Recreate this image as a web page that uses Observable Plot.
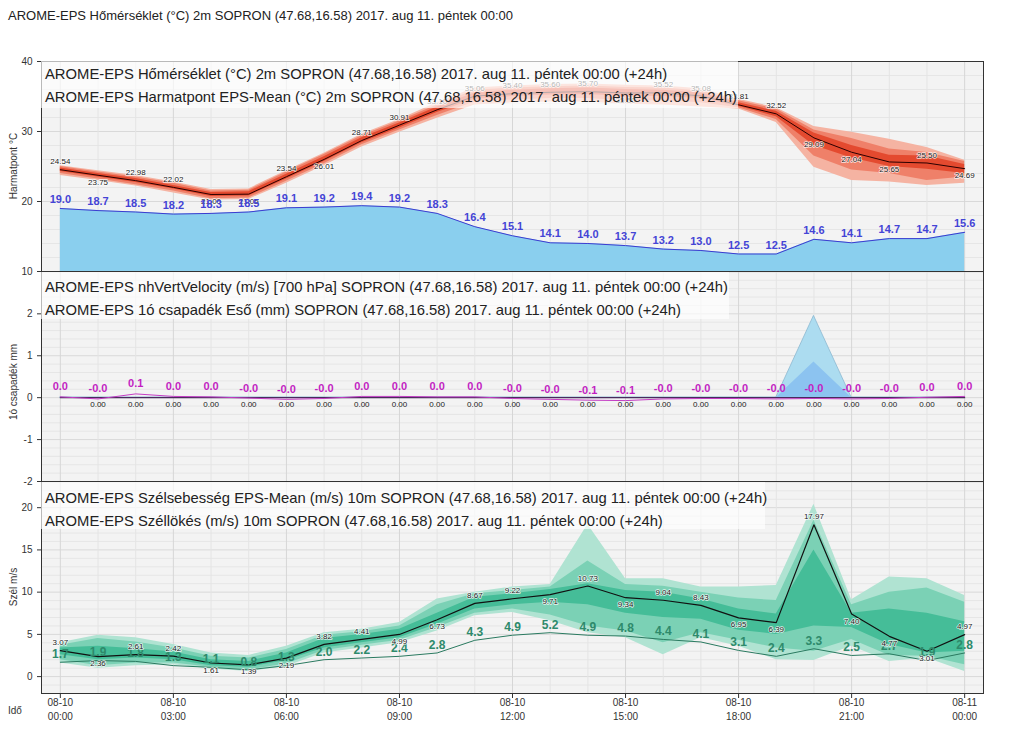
<!DOCTYPE html>
<html><head><meta charset="utf-8">
<script src="https://cdn.jsdelivr.net/npm/d3@7"></script>
<script src="https://cdn.jsdelivr.net/npm/@observablehq/plot@0.6"></script>
<style>
body{margin:0;background:#fff;font-family:"Liberation Sans",Arial,sans-serif;}
#wrap{position:relative;width:1024px;height:753px;overflow:hidden;background:#fff;}
#title{position:absolute;left:8px;top:8px;font-size:13px;color:#222;white-space:nowrap;}
.pan{position:absolute;left:0;}
.leg{position:absolute;left:41px;background:rgba(255,255,255,0.66);font-size:14.8px;color:#222;padding-left:4px;line-height:23px;white-space:nowrap;box-sizing:border-box;}
.ylab{position:absolute;width:200px;text-align:center;font-size:10px;color:#333;transform:rotate(-90deg);white-space:nowrap;line-height:12px;}
#ido{position:absolute;left:8px;top:705px;font-size:10px;color:#333;}
</style></head>
<body><div id="wrap">
<div id="title">AROME-EPS Hőmérséklet (°C) 2m SOPRON (47.68,16.58) 2017. aug 11. péntek 00:00</div>
</div>
<script>
// ---------- data ----------
const hours = [0,1,2,3,4,5,6,7,8,9,10,11,12,13,14,15,16,17,18,19,20,21,22,23,24];
const tickHours = [0,3,6,9,12,15,18,21,24];
const tickDates = ["08-10","08-10","08-10","08-10","08-10","08-10","08-10","08-10","08-11"];
const tickTimes = ["00:00","03:00","06:00","09:00","12:00","15:00","18:00","21:00","00:00"];

// temperature (°C) ensemble
const tempMain = [24.54,23.75,22.98,22.02,21.0,21.05,23.54,26.01,28.71,30.91,33.1,35.06,35.4,35.6,35.7,35.5,35.52,35.08,33.81,32.52,29.09,27.04,25.65,25.50,24.69];
const tempMin  = [23.7,23.0,22.2,21.2,20.2,20.3,22.6,25.1,27.8,29.9,31.9,33.8,34.1,34.2,34.2,33.9,33.8,33.5,33.2,31.3,24.9,23.0,22.8,22.3,22.6];
const tempP10  = [24.0,23.2,22.4,21.5,20.4,20.5,22.9,25.4,28.1,30.2,32.3,34.2,34.5,34.7,34.7,34.4,34.4,34.1,33.4,31.7,26.5,24.5,24.0,23.0,23.5];
const tempP25  = [24.3,23.5,22.7,21.8,20.7,20.8,23.2,25.7,28.4,30.5,32.7,34.6,35.0,35.2,35.3,35.0,35.0,34.7,33.6,32.1,28.0,26.2,25.0,24.6,24.0];
const tempP75  = [24.8,24.0,23.3,22.3,21.3,21.4,23.9,26.4,29.1,31.2,33.5,35.5,35.9,36.1,36.2,36.0,35.9,35.5,34.1,32.9,29.8,28.0,26.6,26.5,25.3];
const tempP90  = [25.0,24.2,23.5,22.6,21.5,21.6,24.2,26.7,29.4,31.5,33.8,35.9,36.2,36.4,36.5,36.3,36.2,35.8,34.4,33.2,30.2,29.0,27.5,27.0,25.7];
const tempMax  = [25.1,24.4,23.7,22.8,21.7,21.8,24.4,26.9,29.6,31.7,34.1,36.2,36.5,36.7,36.8,36.6,36.5,36.1,34.6,33.4,30.7,29.9,28.9,27.7,25.9];
// dew point EPS mean (°C)
const dewMean = [19.0,18.7,18.5,18.2,18.3,18.5,19.1,19.2,19.4,19.2,18.3,16.4,15.1,14.1,14.0,13.7,13.2,13.0,12.5,12.5,14.6,14.1,14.7,14.7,15.6];

// vertical velocity (m/s) and 1h precipitation (mm)
const vertVel   = [0.02,-0.03,0.09,0.03,0.02,-0.01,-0.04,-0.02,0.03,0.03,0.02,0.02,-0.02,-0.04,-0.06,-0.07,-0.03,-0.02,-0.02,-0.03,-0.02,-0.03,-0.02,0.01,0.03];
const precipMed = [0,0,0,0,0,0,0,0,0,0,0,0,0,0,0,0,0,0,0,0,0,0,0,0,0];
const precipP75 = [0,0,0,0,0,0,0,0,0,0,0,0,0,0,0,0,0,0,0,0,0.85,0,0,0,0];
const precipMax = [0,0,0,0,0,0,0,0,0,0,0,0,0,0,0,0,0,0,0,0,1.95,0,0,0,0];

// wind gust (m/s) ensemble and wind speed EPS mean
const gustMain = [3.07,2.36,2.61,2.42,1.61,1.39,2.19,3.82,4.41,4.99,6.73,8.67,9.22,9.71,10.73,9.34,9.04,8.43,6.95,6.39,17.97,7.40,4.77,3.01,4.97];
const gustMin  = [1.6,1.0,1.3,1.4,0.9,0.6,1.2,2.8,3.4,4.0,5.4,7.2,7.6,6.6,5.2,4.6,2.6,4.6,3.6,2.0,1.9,3.6,1.8,2.2,0.6];
const gustP10  = [2.0,1.3,1.6,1.6,1.1,0.8,1.5,3.1,3.7,4.3,5.8,7.5,8.0,7.3,6.0,5.4,4.0,5.2,4.3,3.4,3.0,4.4,2.5,2.4,1.4];
const gustP25  = [2.6,2.0,2.2,2.0,1.3,1.1,1.9,3.4,4.0,4.6,6.2,8.0,8.5,8.8,8.5,7.5,7.0,6.8,5.5,5.0,6.0,5.8,3.8,2.8,3.0];
const gustP75  = [3.4,3.6,3.3,2.9,2.0,1.8,2.8,4.5,5.0,5.6,7.5,9.4,9.8,10.3,11.0,10.2,10.0,9.2,8.0,7.4,15.0,7.5,8.0,7.5,6.5];
const gustP90  = [3.7,4.5,4.1,3.4,2.4,2.2,3.2,4.9,5.3,6.0,8.5,9.8,10.2,10.6,13.7,10.9,10.7,10.0,9.3,9.0,18.5,8.5,10.0,10.5,8.8];
const gustMax  = [4.0,4.9,4.6,3.8,2.8,2.5,3.6,5.2,5.6,6.4,9.2,10.0,10.6,10.9,18.0,11.6,11.6,10.6,10.6,10.8,20.4,9.1,11.8,11.6,9.6];
const windMean = [1.7,1.9,1.8,1.3,1.1,0.8,1.3,2.0,2.2,2.4,2.8,4.3,4.9,5.2,4.9,4.8,4.4,4.1,3.1,2.4,3.3,2.5,2.7,1.9,2.8];

const legends = [
  ["AROME-EPS Hőmérséklet (°C) 2m SOPRON (47.68,16.58) 2017. aug 11. péntek 00:00 (+24h)",
   "AROME-EPS Harmatpont EPS-Mean (°C) 2m SOPRON (47.68,16.58) 2017. aug 11. péntek 00:00 (+24h)"],
  ["AROME-EPS nhVertVelocity (m/s) [700 hPa] SOPRON (47.68,16.58) 2017. aug 11. péntek 00:00 (+24h)",
   "AROME-EPS 1ó csapadék Eső (mm) SOPRON (47.68,16.58) 2017. aug 11. péntek 00:00 (+24h)"],
  ["AROME-EPS Szélsebesség EPS-Mean (m/s) 10m SOPRON (47.68,16.58) 2017. aug 11. péntek 00:00 (+24h)",
   "AROME-EPS Széllökés (m/s) 10m SOPRON (47.68,16.58) 2017. aug 11. péntek 00:00 (+24h)"]
];
const yLabels = ["Harmatpont °C","1ó csapadék mm","Szél m/s"];

// ---------- helpers ----------
const rows = hours.map((h,i)=>({
  h, t:tempMain[i], tmin:tempMin[i], t10:tempP10[i], t25:tempP25[i], t75:tempP75[i], t90:tempP90[i], tmax:tempMax[i],
  dew:dewMean[i], vv:vertVel[i], pmed:precipMed[i], p75:precipP75[i], pmax:precipMax[i],
  g:gustMain[i], gmin:gustMin[i], g10:gustP10[i], g25:gustP25[i], g75:gustP75[i], g90:gustP90[i], gmax:gustMax[i], w:windMean[i]
}));
function isAbove(arr,i){const n=[];if(i>0)n.push(arr[i-1]);if(i<arr.length-1)n.push(arr[i+1]);return arr[i]>=d3.mean(n);}
rows.forEach((r,i)=>{r.tUp=isAbove(tempMain,i);r.gUp=isAbove(gustMain,i);});
const ticksRows = tickHours.map((h,i)=>({h, date:tickDates[i], time:tickTimes[i]}));

const W=1024, ML=41, MR=41, XD=[-0.5,24.5];
const FONT='"Liberation Sans", Arial, sans-serif';
const fmtInt = d => String(d);
function grid(y0,y1,step,major){
  const all=d3.range(Math.ceil(y0/step)*step, y1+1e-9, step).map(v=>+v.toFixed(4));
  const isMaj=v=>Math.abs(v/major-Math.round(v/major))<1e-6;
  return [
    Plot.frame({fill:"#f3f3f3"}),
    Plot.ruleY(all.filter(v=>!isMaj(v)),{stroke:"#e6e6e6",strokeWidth:1}),
    Plot.ruleY(all.filter(isMaj),{stroke:"#d9d9d9",strokeWidth:1}),
    Plot.ruleX(hours.filter(h=>h%3!==0),{stroke:"#e4e4e4",strokeWidth:1}),
    Plot.ruleX(hours.filter(h=>h%3===0),{stroke:"#d6d6d6",strokeWidth:1})
  ];
}
const style={background:"transparent",fontSize:"10px",fontFamily:FONT,color:"#333",overflow:"visible"};
const wrap=document.getElementById("wrap");
function place(svg,top){const d=document.createElement("div");d.className="pan";d.style.top=top+"px";d.appendChild(svg);wrap.appendChild(d);}

// ---------- panel 1: temperature + dew point ----------
const p1 = Plot.plot({
  width:W, height:240, marginLeft:ML, marginRight:MR, marginTop:20, marginBottom:10, style,
  x:{domain:XD, axis:null},
  y:{domain:[10,40], ticks:[10,20,30,40], tickSize:4, tickFormat:fmtInt, label:null},
  marks:[
    ...grid(10,40,2,10),
    Plot.areaY(rows,{x:"h",y1:10,y2:"dew",fill:"#8acfee"}),
    Plot.line(rows,{x:"h",y:"dew",stroke:"#3c3cd0",strokeWidth:1}),
    Plot.areaY(rows,{x:"h",y1:"tmin",y2:"tmax",fill:"#f5b3a2"}),
    Plot.areaY(rows,{x:"h",y1:"t10",y2:"t90",fill:"#ef8069"}),
    Plot.areaY(rows,{x:"h",y1:"t25",y2:"t75",fill:"#e44a2f"}),
    Plot.line(rows,{x:"h",y:"t",stroke:"#2a0000",strokeWidth:1}),
    Plot.text(rows.filter(r=>r.tUp),{x:"h",y:"t",text:d=>d.t.toFixed(2),dy:-8,fontSize:8,fill:"#222",stroke:"#fff",strokeWidth:1.5,strokeOpacity:0.8}),
    Plot.text(rows.filter(r=>!r.tUp),{x:"h",y:"t",text:d=>d.t.toFixed(2),dy:7,fontSize:8,fill:"#222",stroke:"#fff",strokeWidth:1.5,strokeOpacity:0.8}),
    Plot.text(rows,{x:"h",y:"dew",text:d=>d.dew.toFixed(1),dy:-9,fontSize:11,fontWeight:"bold",fill:"#4444d6"}),
    Plot.frame({stroke:"#333"})
  ]
});
place(p1,41);

// ---------- panel 2: vertical velocity + precipitation ----------
const p2 = Plot.plot({
  width:W, height:250, marginLeft:ML, marginRight:MR, marginTop:20, marginBottom:20, style,
  x:{domain:XD, axis:null},
  y:{domain:[-2,3.01], ticks:[-2,-1,0,1,2], tickSize:4, tickFormat:fmtInt, label:null},
  marks:[
    ...grid(-2,3,0.2,1),
    Plot.areaY(rows,{x:"h",y1:"pmed",y2:"pmax",fill:"#acdcf0",stroke:"#8ab8d0",strokeWidth:0.8}),
    Plot.areaY(rows,{x:"h",y1:"pmed",y2:"p75",fill:"#8cc3f0"}),
    Plot.line(rows,{x:"h",y:"pmed",stroke:"#4a2a5c",strokeWidth:1.2}),
    Plot.line(rows,{x:"h",y:"vv",stroke:"#c43cc4",strokeWidth:1}),
    Plot.text(rows.filter(r=>r.h>0),{x:"h",y:"pmed",text:d=>d.pmed.toFixed(2),dy:7,fontSize:8,fill:"#222"}),
    Plot.text(rows,{x:"h",y:"vv",text:d=>d.vv.toFixed(1),dy:-10,fontSize:11,fontWeight:"bold",fill:"#c21fc2"}),
    Plot.frame({stroke:"#333"})
  ]
});
place(p2,251);

// ---------- panel 3: wind ----------
const p3 = Plot.plot({
  width:W, height:292, marginLeft:ML, marginRight:MR, marginTop:20, marginBottom:60, style,
  x:{domain:XD, ticks:tickHours, tickFormat:()=>"", tickSize:5, label:null},
  y:{domain:[-2,23.1], ticks:[0,5,10,15,20], tickSize:4, tickFormat:fmtInt, label:null},
  marks:[
    ...grid(-2,23,1,5),
    Plot.areaY(rows,{x:"h",y1:"gmin",y2:"gmax",fill:"#b0e3d2"}),
    Plot.areaY(rows,{x:"h",y1:"g10",y2:"g90",fill:"#7bd1b5"}),
    Plot.areaY(rows,{x:"h",y1:"g25",y2:"g75",fill:"#45bd98"}),
    Plot.line(rows,{x:"h",y:"w",stroke:"#2a7a60",strokeWidth:1}),
    Plot.line(rows,{x:"h",y:"g",stroke:"#111",strokeWidth:1.2}),
    Plot.text(rows,{x:"h",y:"w",text:d=>d.w.toFixed(1),dy:-8,fontSize:12,fontWeight:"bold",fill:"#2e8a6b"}),
    Plot.text(rows.filter(r=>r.gUp),{x:"h",y:"g",text:d=>d.g.toFixed(2),dy:-8,fontSize:8,fill:"#222",stroke:"#fff",strokeWidth:1.5,strokeOpacity:0.8}),
    Plot.text(rows.filter(r=>!r.gUp),{x:"h",y:"g",text:d=>d.g.toFixed(2),dy:7,fontSize:8,fill:"#222",stroke:"#fff",strokeWidth:1.5,strokeOpacity:0.8}),
    Plot.frame({stroke:"#333"}),
    Plot.text(ticksRows,{x:"h",text:"date",frameAnchor:"bottom",dy:12,fontSize:10,fill:"#333"}),
    Plot.text(ticksRows,{x:"h",text:"time",frameAnchor:"bottom",dy:26,fontSize:10,fill:"#333"})
  ]
});
place(p3,461);

// ---------- legends & axis titles ----------
const legBoxes=[{top:61,width:697,pad:2},{top:272,width:688,pad:4},{top:482,width:724,pad:5}];
legBoxes.forEach((b,i)=>{
  const d=document.createElement("div");d.className="leg";
  d.style.top=b.top+"px";d.style.width=b.width+"px";d.style.height="47px";d.style.paddingTop=b.pad+"px";
  d.innerHTML=legends[i].map(s=>"<div>"+s+"</div>").join("");
  wrap.appendChild(d);
});
const yLabCenters=[166,382,587];
yLabels.forEach((s,i)=>{
  const d=document.createElement("div");d.className="ylab";d.textContent=s;
  d.style.left=(14-100)+"px";d.style.top=(yLabCenters[i]-6)+"px";wrap.appendChild(d);
});
const ido=document.createElement("div");ido.id="ido";ido.textContent="Idő";wrap.appendChild(ido);
</script>
</body></html>
